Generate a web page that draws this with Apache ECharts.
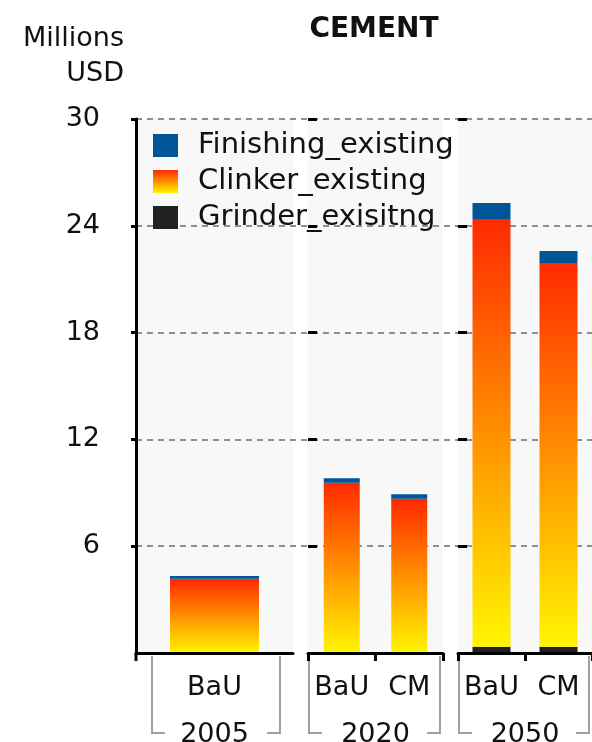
<!DOCTYPE html>
<html>
<head>
<meta charset="utf-8">
<script src="https://cdn.jsdelivr.net/npm/echarts@6/dist/echarts.min.js"></script>
<style>
html,body{margin:0;padding:0;background:#fff;}
#chart{width:592px;height:742px;}
</style>
</head>
<body>
<div id="chart"></div>
<script>
// ---- data ----
const years = ['2005', '2020', '2050'];
const scenarios = [['BaU'], ['BaU', 'CM'], ['BaU', 'CM']];
const grinder = [[0], [0.04, 0.04], [0.35, 0.35]];
const clinker = [[4.17], [9.52, 8.62], [24.03, 21.52]];
const finishing = [[0.16], [0.26, 0.26], [0.90, 0.71]];
const seriesNames = ['Finishing_existing', 'Clinker_existing', 'Grinder_exisitng'];
const yMin = 0, yMax = 30, yInterval = 6;

// ---- layout / style ----
const FONT = 'DejaVu Sans';
const TOP = 119, BOTTOM = 89;
const panels = [
  { left: 136, width: 157, barWidth: 89, brL: 152, brR: 280 },
  { left: 308, width: 135, barWidth: 36, brL: 309, brR: 440 },
  { left: 458, width: 134, barWidth: 38, brL: 459, brR: 589 }
];
const axisY = 742 - BOTTOM;

const chart = echarts.init(document.getElementById('chart'));

const clinkerColor = new echarts.graphic.LinearGradient(0, 0, 0, 1, [
  { offset: 0, color: '#ff2a00' },
  { offset: 1, color: '#fff500' }
]);
const colors = {
  Finishing_existing: '#005596',
  Clinker_existing: clinkerColor,
  Grinder_exisitng: '#222222'
};

const grids = [{ left: 136, right: 0, top: TOP, bottom: BOTTOM, show: false,
  outerBoundsMode: 'none', containLabel: false }];
const xAxes = [{ type: 'value', gridIndex: 0, show: false }];
const yAxes = [{
  type: 'value', gridIndex: 0, min: yMin, max: yMax, interval: yInterval, z: 1,
  axisLine: { show: false }, axisTick: { show: false }, axisLabel: { show: false },
  splitLine: { show: true, showMinLine: false, lineStyle: { color: '#8f8f8f', width: 2, type: [6, 5] } }
}];
panels.forEach((p, i) => {
  grids.push({ left: p.left, width: p.width, top: TOP, bottom: BOTTOM, show: true,
    backgroundColor: '#f8f8f8', borderWidth: 0, outerBoundsMode: 'none', containLabel: false });
});
panels.forEach((p, i) => {
  xAxes.push({
    type: 'category', gridIndex: i + 1, data: scenarios[i], position: 'bottom', z: 3,
    axisLine: { show: true, lineStyle: { color: '#000', width: 3 } },
    axisTick: { show: i > 0, length: 8, lineStyle: { color: '#000', width: 3 } },
    axisLabel: { fontFamily: FONT, fontSize: 27, color: '#111', margin: 21, interval: 0 }
  });
});
panels.forEach((p, i) => {
  xAxes.push({
    type: 'category', gridIndex: i + 1, data: [years[i]], position: 'bottom', offset: 60,
    axisLine: { show: false }, axisTick: { show: false },
    axisLabel: { fontFamily: FONT, fontSize: 27, color: '#111', margin: 8, interval: 0 }
  });
});
panels.forEach((p, i) => {
  yAxes.push({
    type: 'value', gridIndex: i + 1, min: yMin, max: yMax, interval: yInterval, z: 3,
    axisLine: { show: i === 0, lineStyle: { color: '#000', width: 3 } },
    axisTick: { show: true, inside: i > 0, length: i > 0 ? 9 : 5, lineStyle: { color: '#000', width: 3 } },
    axisLabel: { show: i === 0, showMinLabel: false, fontFamily: FONT, fontSize: 27, color: '#111', margin: 36 },
    splitLine: { show: false }
  });
});

const series = [];
const stacks = [['Grinder_exisitng', grinder], ['Clinker_existing', clinker], ['Finishing_existing', finishing]];
panels.forEach((p, i) => {
  stacks.forEach(([name, arr]) => {
    series.push({
      name: name, type: 'bar', stack: 'p' + i, xAxisIndex: i + 1, yAxisIndex: i + 1,
      barWidth: p.barWidth, data: arr[i], itemStyle: { color: colors[name] }, z: 2
    });
  });
});

const graphics = [];
panels.forEach((p) => {
  graphics.push({
    type: 'polyline', silent: true,
    shape: { points: [[p.brL + 13, axisY + 80], [p.brL, axisY + 80], [p.brL, axisY + 3]] },
    style: { stroke: '#a0a0a0', lineWidth: 2, fill: null }
  });
  graphics.push({
    type: 'polyline', silent: true,
    shape: { points: [[p.brR - 13, axisY + 80], [p.brR, axisY + 80], [p.brR, axisY + 3]] },
    style: { stroke: '#a0a0a0', lineWidth: 2, fill: null }
  });
});
// y-axis line continues slightly below the category axis
graphics.push({
  type: 'line', silent: true, z: 10,
  shape: { x1: panels[0].left, y1: axisY, x2: panels[0].left, y2: axisY + 8 },
  style: { stroke: '#000', lineWidth: 3 }
});

chart.setOption({
  animation: false,
  backgroundColor: '#ffffff',
  title: [
    { text: 'CEMENT', left: 374, top: 16, textAlign: 'center', padding: 0,
      textStyle: { fontFamily: FONT, fontSize: 28, fontWeight: 'bold', color: '#111' } },
    { text: 'Millions\nUSD', left: 124, top: 21, textAlign: 'right', padding: 0,
      textStyle: { fontFamily: FONT, fontSize: 27, fontWeight: 'normal', color: '#111', lineHeight: 35, align: 'right' } }
  ],
  legend: {
    data: seriesNames, orient: 'vertical', left: 153, top: 131, padding: 0,
    itemWidth: 25, itemHeight: 23, itemGap: 7, icon: 'rect',
    textStyle: { fontFamily: FONT, fontSize: 29, color: '#111', lineHeight: 23, padding: [0, 0, 0, 15] }
  },
  grid: grids,
  xAxis: xAxes,
  yAxis: yAxes,
  series: series,
  graphic: graphics
});
</script>
</body>
</html>
